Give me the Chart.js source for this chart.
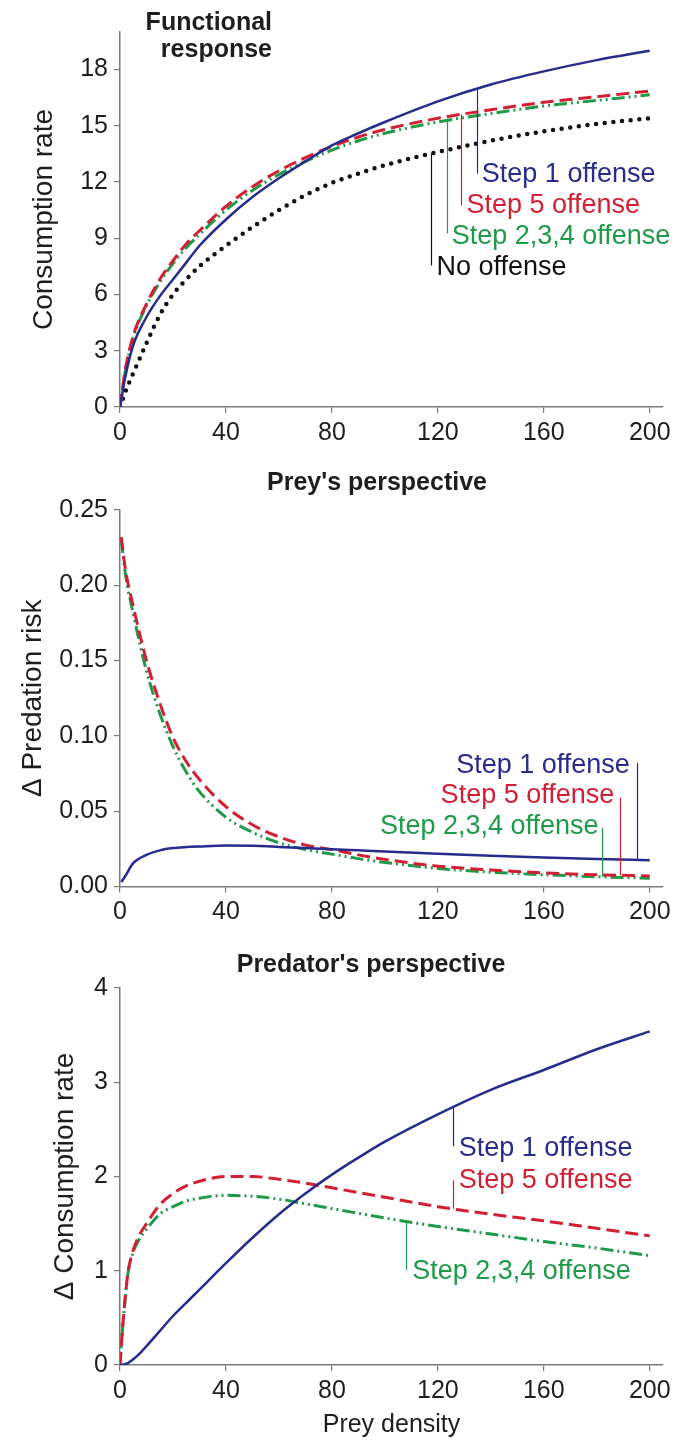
<!DOCTYPE html>
<html>
<head>
<meta charset="utf-8">
<script src="https://cdn.jsdelivr.net/npm/chart.js@4"></script>
<style>
  html, body { margin: 0; padding: 0; background: #fff; }
  #wrap { position: relative; width: 692px; height: 1440px; }
  canvas { position: absolute; left: 0; display: block; }
</style>
</head>
<body>
<div id="wrap">
  <canvas id="frChart" width="692" height="460" style="top:0"></canvas>
  <canvas id="preyChart" width="692" height="480" style="top:460px"></canvas>
  <canvas id="predChart" width="692" height="500" style="top:940px"></canvas>
</div>
<script>
// Tick labels
const xTicks = [0, 40, 80, 120, 160, 200];
const frTicks = [0, 3, 6, 9, 12, 15, 18];
const preyTicks = [0, 0.05, 0.10, 0.15, 0.20, 0.25];
const predTicks = [0, 1, 2, 3, 4];

// Functional response (consumption rate vs prey density)
const xFR = [0, 2, 5, 10, 15, 20, 25, 30, 40, 50, 60, 70, 80, 90, 100, 120, 140, 160, 180, 200];
const step1FR = [0, 1.6, 3.3, 4.8, 5.9, 6.8, 7.7, 8.6, 10.0, 11.2, 12.2, 13.1, 13.95, 14.6, 15.2, 16.3, 17.2, 17.9, 18.5, 19.0];
const step5FR = [0, 2.0, 3.8, 5.5, 6.8, 7.8, 8.7, 9.4, 10.7, 11.75, 12.6, 13.3, 13.9, 14.4, 14.8, 15.4, 15.85, 16.25, 16.55, 16.85];
const step234FR = [0, 1.9, 3.7, 5.4, 6.65, 7.65, 8.5, 9.2, 10.5, 11.55, 12.4, 13.1, 13.7, 14.2, 14.6, 15.2, 15.65, 16.05, 16.35, 16.65];
const noOffenseFR = [0, 0.8, 1.8, 3.4, 4.9, 6.0, 6.8, 7.5, 8.6, 9.6, 10.5, 11.3, 11.95, 12.45, 12.9, 13.6, 14.2, 14.7, 15.1, 15.4];

// Prey's perspective (delta predation risk)
const xPrey = [0.5, 2, 5, 10, 15, 20, 25, 30, 40, 50, 60, 70, 80, 90, 100, 120, 140, 160, 180, 200];
const step1Prey = [0.003, 0.007, 0.0155, 0.021, 0.024, 0.0255, 0.0262, 0.0266, 0.0272, 0.027, 0.0263, 0.0255, 0.0247, 0.024, 0.0233, 0.0218, 0.0205, 0.0193, 0.0183, 0.0175];
const step5Prey = [0.232, 0.211, 0.186, 0.150, 0.122, 0.099, 0.083, 0.071, 0.053, 0.041, 0.033, 0.0275, 0.0245, 0.021, 0.018, 0.0135, 0.011, 0.009, 0.0078, 0.007];
const step234Prey = [0.230, 0.208, 0.181, 0.143, 0.115, 0.093, 0.076, 0.063, 0.046, 0.036, 0.029, 0.0245, 0.0215, 0.0185, 0.016, 0.012, 0.0095, 0.0078, 0.0065, 0.0055];

// Predator's perspective (delta consumption rate)
const xPred = [0, 1, 2, 3, 5, 7, 10, 15, 20, 25, 30, 40, 50, 60, 70, 80, 90, 100, 120, 140, 160, 180, 200];
const step1Pred = [0, 0.003, 0.01, 0.02, 0.06, 0.11, 0.2, 0.36, 0.52, 0.66, 0.80, 1.08, 1.35, 1.60, 1.82, 2.02, 2.20, 2.37, 2.66, 2.92, 3.13, 3.35, 3.54];
const step5Pred = [0, 0.4, 0.72, 0.98, 1.22, 1.36, 1.50, 1.70, 1.82, 1.90, 1.95, 2.00, 2.00, 1.97, 1.93, 1.88, 1.83, 1.78, 1.68, 1.60, 1.53, 1.45, 1.37];
const step234Pred = [0, 0.4, 0.72, 0.97, 1.2, 1.32, 1.44, 1.6, 1.68, 1.74, 1.77, 1.80, 1.79, 1.76, 1.71, 1.66, 1.61, 1.56, 1.47, 1.39, 1.31, 1.24, 1.16];

const FONT = '"Liberation Sans", Arial, Helvetica, sans-serif';
const INK = '#1e1e1e';
const AXIS = '#7a7a7a';
const BLUE = '#272b8c';
const RED = '#d21f34';
const GREEN = '#1e9a48';
const BLACK = '#111111';

Chart.defaults.font.family = FONT;

// linear lookup on a dataset, used to start leader lines on the curve
function curveAt(data, xv) {
    for (let i = 1; i < data.length; i++) {
        if (data[i].x >= xv) {
            const a = data[i - 1], b = data[i];
            return a.y + (b.y - a.y) * (xv - a.x) / (b.x - a.x);
        }
    }
    return data[data.length - 1].y;
}

const panelText = {
    id: 'panelText',
    afterDatasetsDraw(chart, args, opts) {
        const ctx = chart.ctx;
        const x = chart.scales.x, y = chart.scales.y;
        ctx.save();
        (opts.notes || []).forEach(n => {
            const px = Math.round(x.getPixelForValue(n.lineX)) + 0.5;
            const y0 = y.getPixelForValue(curveAt(chart.data.datasets[n.series].data, n.lineX));
            ctx.strokeStyle = n.color;
            ctx.lineWidth = 1.2;
            ctx.setLineDash([]);
            ctx.beginPath();
            ctx.moveTo(px, y0);
            ctx.lineTo(px, y.getPixelForValue(n.lineEnd));
            ctx.stroke();
            ctx.fillStyle = n.color;
            ctx.font = '27px ' + FONT;
            ctx.textAlign = n.align;
            ctx.textBaseline = 'middle';
            ctx.fillText(n.text, x.getPixelForValue(n.textX), y.getPixelForValue(n.textY));
        });
        (opts.titles || []).forEach(t => {
            ctx.fillStyle = INK;
            ctx.font = 'bold 25px ' + FONT;
            ctx.textAlign = t.align;
            ctx.textBaseline = 'alphabetic';
            ctx.fillText(t.text, t.x, t.y);
        });
        ctx.restore();
    }
};

function pts(xs, ys) {
    return xs.map((v, i) => ({ x: v, y: ys[i] }));
}

function line(label, xs, ys, color, dash, width, cap) {
    return {
        label: label,
        data: pts(xs, ys),
        borderColor: color,
        borderWidth: width,
        borderDash: dash,
        borderCapStyle: cap || 'butt',
        pointRadius: 0,
        fill: false,
        cubicInterpolationMode: 'monotone'
    };
}

function xAxis(title, h) {
    return {
        type: 'linear',
        min: 0,
        max: 205,
        afterBuildTicks: s => { s.ticks = xTicks.map(v => ({ value: v })); },
        afterFit: s => { s.height = h; },
        grid: { drawOnChartArea: false, drawTicks: true, tickLength: 6, color: AXIS, lineWidth: 1.2 },
        border: { display: true, color: AXIS, width: 1.5 },
        ticks: { color: INK, font: { size: 25 }, padding: 5, maxRotation: 0, autoSkip: false, callback: v => String(v) },
        title: title
            ? { display: true, text: title, color: INK, font: { size: 25 }, padding: 0 }
            : { display: false }
    };
}

function yAxis(ticks, max, title, width, fmt) {
    return {
        type: 'linear',
        min: 0,
        max: max,
        afterBuildTicks: s => { s.ticks = ticks.map(v => ({ value: v })); },
        afterFit: s => { s.width = width; },
        grid: { drawOnChartArea: false, drawTicks: true, tickLength: 6, color: AXIS, lineWidth: 1.2 },
        border: { display: true, color: AXIS, width: 1.5 },
        ticks: { color: INK, font: { size: 25 }, padding: 6, autoSkip: false, callback: fmt },
        title: { display: true, text: title, color: INK, font: { size: 28 }, padding: 0 }
    };
}

function makeChart(id, datasets, scales, padding, textOpts) {
    return new Chart(document.getElementById(id), {
        type: 'line',
        data: { datasets: datasets },
        options: {
            responsive: false,
            animation: false,
            devicePixelRatio: 1,
            layout: { padding: padding },
            plugins: {
                legend: { display: false },
                tooltip: { enabled: false },
                panelText: textOpts
            },
            scales: scales
        },
        plugins: [panelText]
    });
}

// Panel 1: functional response
makeChart('frChart', [
    line('Step 1 offense', xFR, step1FR, BLUE, [], 2.5),
    line('Step 5 offense', xFR, step5FR, RED, [13, 6], 3),
    line('Step 2,3,4 offense', xFR, step234FR, GREEN, [13, 4, 2, 4, 2, 4], 3),
    line('No offense', xFR, noOffenseFR, BLACK, [0, 8.7], 4.5, 'round')
], {
    x: xAxis(null, 45),
    y: yAxis(frTicks, 20, 'Consumption rate', 93, v => String(v))
}, { top: 32, bottom: 8, left: 27, right: 29 }, {
    titles: [
        { text: 'Functional', x: 272, y: 30, align: 'right' },
        { text: 'response', x: 272, y: 57, align: 'right' }
    ],
    notes: [
        { text: 'Step 1 offense', color: BLUE, series: 0, lineX: 134.6, lineEnd: 12.45, textX: 136.6, textY: 12.4, align: 'left' },
        { text: 'Step 5 offense', color: RED, series: 1, lineX: 128.9, lineEnd: 10.75, textX: 130.8, textY: 10.75, align: 'left' },
        { text: 'Step 2,3,4 offense', color: GREEN, series: 2, lineX: 123.3, lineEnd: 9.25, textX: 125.2, textY: 9.1, align: 'left' },
        { text: 'No offense', color: BLACK, series: 3, lineX: 117.6, lineEnd: 7.55, textX: 119.5, textY: 7.45, align: 'left' }
    ]
});

// Panel 2: prey's perspective
makeChart('preyChart', [
    line('Step 1 offense', xPrey, step1Prey, BLUE, [], 2.5),
    line('Step 5 offense', xPrey, step5Prey, RED, [13, 6], 3),
    line('Step 2,3,4 offense', xPrey, step234Prey, GREEN, [13, 4, 2, 4, 2, 4], 3)
], {
    x: xAxis(null, 45),
    y: yAxis(preyTicks, 0.25, '\u0394 Predation risk', 104, v => v.toFixed(2))
}, { top: 50, bottom: 8.5, left: 16, right: 29 }, {
    titles: [
        { text: "Prey's perspective", x: 377, y: 30, align: 'center' }
    ],
    notes: [
        { text: 'Step 1 offense', color: BLUE, series: 0, lineX: 195.3, lineEnd: 0.082, textX: 192.5, textY: 0.080, align: 'right' },
        { text: 'Step 5 offense', color: RED, series: 1, lineX: 188.8, lineEnd: 0.059, textX: 186.6, textY: 0.0605, align: 'right' },
        { text: 'Step 2,3,4 offense', color: GREEN, series: 2, lineX: 182.0, lineEnd: 0.039, textX: 180.7, textY: 0.0395, align: 'right' }
    ]
});

// Panel 3: predator's perspective
makeChart('predChart', [
    line('Step 1 offense', xPred, step1Pred, BLUE, [], 2.5),
    line('Step 5 offense', xPred, step5Pred, RED, [13, 6], 3),
    line('Step 2,3,4 offense', xPred, step234Pred, GREEN, [13, 4, 2, 4, 2, 4], 3)
], {
    x: xAxis('Prey density', 75),
    y: yAxis(predTicks, 4, '\u0394 Consumption rate', 72, v => String(v))
}, { top: 48, bottom: 0, left: 48, right: 29 }, {
    titles: [
        { text: "Predator's perspective", x: 371, y: 32, align: 'center' }
    ],
    notes: [
        { text: 'Step 1 offense', color: BLUE, series: 0, lineX: 125.7, lineEnd: 2.32, textX: 127.9, textY: 2.30, align: 'left' },
        { text: 'Step 5 offense', color: RED, series: 1, lineX: 125.7, lineEnd: 1.96, textX: 127.9, textY: 1.96, align: 'left' },
        { text: 'Step 2,3,4 offense', color: GREEN, series: 2, lineX: 107.8, lineEnd: 1.01, textX: 110.3, textY: 0.99, align: 'left' }
    ]
});
</script>
</body>
</html>
